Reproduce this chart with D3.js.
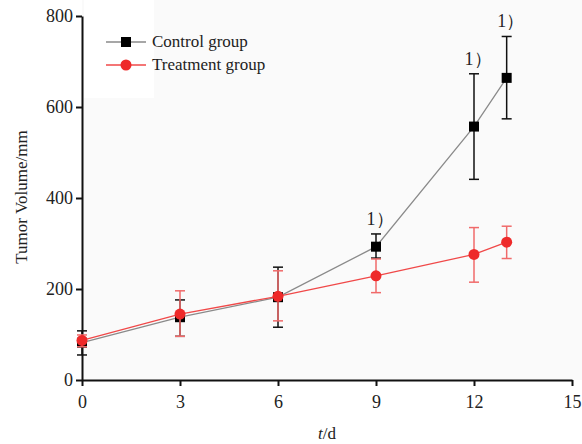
<!DOCTYPE html>
<html>
<head>
<meta charset="utf-8">
<script src="https://cdn.jsdelivr.net/npm/d3@7"></script>
<style>
  body { margin: 0; background: #fff; }
</style>
</head>
<body>
<div id="chart"></div>
<script>
const days = [0, 3, 6, 9, 12, 13];
const controlMean = [82, 138, 182, 293, 557, 664];
const controlLow = [55, 96, 116, 268, 441, 574];
const controlHigh = [108, 176, 248, 321, 673, 755];
const treatMean = [87, 145, 184, 229, 276, 303];
const treatLow = [73, 96, 130, 192, 215, 267];
const treatHigh = [99, 196, 240, 266, 335, 338];
const markedDays = [9, 12, 13];
const xTicks = [0, 3, 6, 9, 12, 15];
const yTicks = [0, 200, 400, 600, 800];

const FONT = '"Liberation Serif", "Times New Roman", Times, "DejaVu Serif", serif';

const svgWidth = 582;
const svgHeight = 444;
const margin = { top: 16, right: 10, bottom: 64, left: 82 };
const width = 572 - margin.left;
const height = 380 - margin.top;

const svg = d3.select('#chart').append('svg')
  .attr('width', svgWidth)
  .attr('height', svgHeight)
  .attr('font-family', FONT);

// light grey plot background, white behind the legend
svg.append('rect')
  .attr('x', margin.left).attr('y', 0)
  .attr('width', svgWidth - margin.left).attr('height', 380)
  .attr('fill', '#fafafa');
svg.append('rect')
  .attr('x', margin.left + 2).attr('y', 0)
  .attr('width', 68 + 2).attr('height', 98)
  .attr('fill', '#fff');

const g = svg.append('g')
  .attr('transform', `translate(${margin.left},${margin.top})`);

const x = d3.scaleLinear().domain([0, 15]).range([0, width]);
const y = d3.scaleLinear().domain([0, 800]).range([height, 0]);

// axes
const xAxis = g.append('g')
  .attr('transform', `translate(0,${height})`)
  .call(d3.axisBottom(x).tickValues(xTicks).tickSize(6).tickPadding(9).tickSizeOuter(0));
const yAxis = g.append('g')
  .call(d3.axisLeft(y).tickValues(yTicks).tickSize(6).tickPadding(3).tickSizeOuter(0));

[xAxis, yAxis].forEach(a => {
  a.attr('font-family', FONT).attr('font-size', 18);
  a.selectAll('path, line').attr('stroke', '#111').attr('stroke-width', 2);
  a.selectAll('text').attr('fill', '#222');
});

// series
const series = [
  { name: 'Control group', mean: controlMean, low: controlLow, high: controlHigh,
    line: '#8a8a8a', bar: '#111', mark: '#000', shape: 'square' },
  { name: 'Treatment group', mean: treatMean, low: treatLow, high: treatHigh,
    line: '#f04848', bar: '#f06a6a', mark: '#ee2a2a', shape: 'circle' },
];

const line = d3.line()
  .x(d => x(d.day))
  .y(d => y(d.v));

function drawMarker(sel, s, cx, cy) {
  if (s.shape === 'square') {
    sel.append('rect')
      .attr('x', cx - 5).attr('y', cy - 5)
      .attr('width', 10).attr('height', 10)
      .attr('fill', s.mark);
  } else {
    sel.append('circle')
      .attr('cx', cx).attr('cy', cy).attr('r', 5.5)
      .attr('fill', s.mark);
  }
}

series.forEach(s => {
  const pts = days.map((d, i) => ({ day: d, v: s.mean[i], lo: s.low[i], hi: s.high[i] }));
  const sg = g.append('g');

  sg.append('path')
    .datum(pts)
    .attr('fill', 'none')
    .attr('stroke', s.line)
    .attr('stroke-width', 1.3)
    .attr('d', line);

  const eb = sg.selectAll('g.err').data(pts).join('g').attr('class', 'err')
    .attr('stroke', s.bar).attr('stroke-width', 1.5);
  eb.append('line')
    .attr('x1', d => x(d.day)).attr('x2', d => x(d.day))
    .attr('y1', d => y(d.lo)).attr('y2', d => y(d.hi));
  eb.append('line')
    .attr('x1', d => x(d.day) - 5).attr('x2', d => x(d.day) + 5)
    .attr('y1', d => y(d.lo)).attr('y2', d => y(d.lo));
  eb.append('line')
    .attr('x1', d => x(d.day) - 5).attr('x2', d => x(d.day) + 5)
    .attr('y1', d => y(d.hi)).attr('y2', d => y(d.hi));

  pts.forEach(p => drawMarker(sg, s, x(p.day), y(p.v)));
});

// significance marks
markedDays.forEach(d => {
  const i = days.indexOf(d);
  g.append('text')
    .attr('x', x(d) + 4)
    .attr('y', y(controlHigh[i]) - 9)
    .attr('text-anchor', 'middle')
    .attr('font-size', 18)
    .attr('fill', '#222')
    .text('1）');
});

// legend
const legend = g.append('g').attr('transform', 'translate(24,26)');
series.forEach((s, i) => {
  const row = legend.append('g').attr('transform', `translate(0,${i * 23})`);
  row.append('line')
    .attr('x1', 0).attr('x2', 40)
    .attr('stroke', s.line).attr('stroke-width', 1.3);
  drawMarker(row, s, 20, 0);
  row.append('text')
    .attr('x', 46).attr('y', 5)
    .attr('font-size', 17)
    .attr('fill', '#222')
    .text(s.name);
});

// axis titles
svg.append('text')
  .attr('transform', 'translate(27,197) rotate(-90)')
  .attr('text-anchor', 'middle')
  .attr('font-size', 17)
  .attr('fill', '#222')
  .text('Tumor Volume/mm');

const xt = svg.append('text')
  .attr('x', margin.left + width / 2)
  .attr('y', 439)
  .attr('text-anchor', 'middle')
  .attr('font-size', 17)
  .attr('fill', '#222');
xt.append('tspan').attr('font-style', 'italic').text('t');
xt.append('tspan').text('/d');
</script>
</body>
</html>
